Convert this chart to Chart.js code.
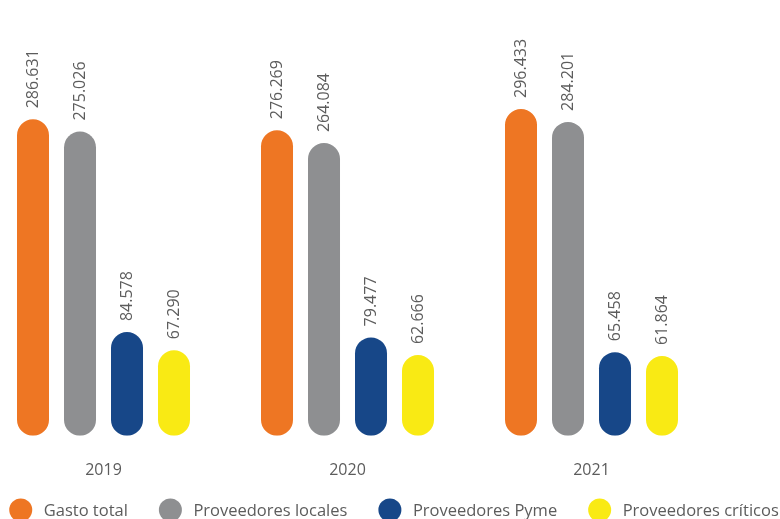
<!DOCTYPE html>
<html>
<head>
<meta charset="utf-8">
<script src="https://cdn.jsdelivr.net/npm/chart.js@4"></script>
<style>
  html, body { margin: 0; padding: 0; background: #fff; }
  #wrap { position: relative; width: 780px; height: 519px; }
</style>
</head>
<body>
<div id="wrap"><canvas id="chart"></canvas></div>
<script>
var years = ['2019', '2020', '2021'];
var seriesNames = ['Gasto total', 'Proveedores locales', 'Proveedores Pyme', 'Proveedores críticos'];
var gastoTotal = [286631, 276269, 296433];
var provLocales = [275026, 264084, 284201];
var provPyme = [84578, 79477, 65458];
var provCriticos = [67290, 62666, 61864];

var orange = '#ee7623';
var grey = '#8e8f91';
var blue = '#174788';
var yellow = '#f9ea14';
var textColor = '#5c5c5c';
var yBase = -14000;

function toPoints(arr) {
  return arr.map(function(v, i) { return { x: i, y: v }; });
}

function fmt(v) {
  return String(v).replace(/\B(?=(\d{3})+(?!\d))/g, '.');
}

// vertical value labels above each bar
var valueLabels = {
  id: 'valueLabels',
  afterDatasetsDraw: function(chart) {
    var ctx = chart.ctx;
    ctx.save();
    ctx.font = '16px "Open Sans"';
    ctx.fillStyle = textColor;
    ctx.textAlign = 'left';
    ctx.textBaseline = 'middle';
    chart.data.datasets.forEach(function(ds, di) {
      chart.getDatasetMeta(di).data.forEach(function(el, i) {
        ctx.save();
        ctx.translate(el.x, el.y - 11);
        ctx.rotate(-Math.PI / 2);
        ctx.fillText(fmt(ds.data[i].y), 0, 0);
        ctx.restore();
      });
    });
    ctx.restore();
  }
};

// legend row with round markers, wider spacing than the built-in one allows
var dotLegend = {
  id: 'dotLegend',
  afterDraw: function(chart) {
    var ctx = chart.ctx;
    var r = 11.5, toText = 23, gap = 31, y = 510;
    ctx.save();
    ctx.font = '16.5px "Open Sans"';
    ctx.textBaseline = 'middle';
    ctx.textAlign = 'left';
    var items = chart.data.datasets.map(function(ds) {
      return { label: ds.label, color: ds.backgroundColor, w: ctx.measureText(ds.label).width };
    });
    var total = items.reduce(function(s, it) { return s + r + toText + it.w; }, 0) + gap * (items.length - 1);
    var x = (chart.width - total) / 2 + 4;
    items.forEach(function(it) {
      ctx.fillStyle = it.color;
      ctx.beginPath();
      ctx.arc(x + r, y, r, 0, Math.PI * 2);
      ctx.fill();
      ctx.fillStyle = textColor;
      ctx.fillText(it.label, x + r + toText, y + 1);
      x += r + toText + it.w + gap;
    });
    ctx.restore();
  }
};

function barSet(label, data, color) {
  return {
    label: label, data: toPoints(data), backgroundColor: color,
    borderRadius: 16, borderSkipped: false, base: yBase,
    categoryPercentage: 0.7705, barPercentage: 0.681
  };
}

new Chart(document.getElementById('chart').getContext('2d'), {
  type: 'bar',
  data: {
    datasets: [
      barSet(seriesNames[0], gastoTotal, orange),
      barSet(seriesNames[1], provLocales, grey),
      barSet(seriesNames[2], provPyme, blue),
      barSet(seriesNames[3], provCriticos, yellow)
    ]
  },
  options: {
    responsive: true, maintainAspectRatio: false, animation: false,
    layout: { padding: { top: 0, left: 0, right: 0, bottom: 14 } },
    plugins: {
      tooltip: { enabled: false },
      legend: { display: false }
    },
    scales: {
      x: {
        type: 'linear', min: -0.4242, max: 2.7725, offset: false,
        grid: { display: false, drawTicks: false }, border: { display: false },
        ticks: {
          stepSize: 1, includeBounds: false, padding: 25, color: textColor,
          font: { family: 'Open Sans', size: 16 },
          callback: function(v) { return years[v] !== undefined && Number.isInteger(v) ? years[v] : ''; }
        }
      },
      y: {
        display: false, min: yBase, max: 400000
      }
    }
  },
  plugins: [valueLabels, dotLegend]
});
</script>
</body>
</html>
